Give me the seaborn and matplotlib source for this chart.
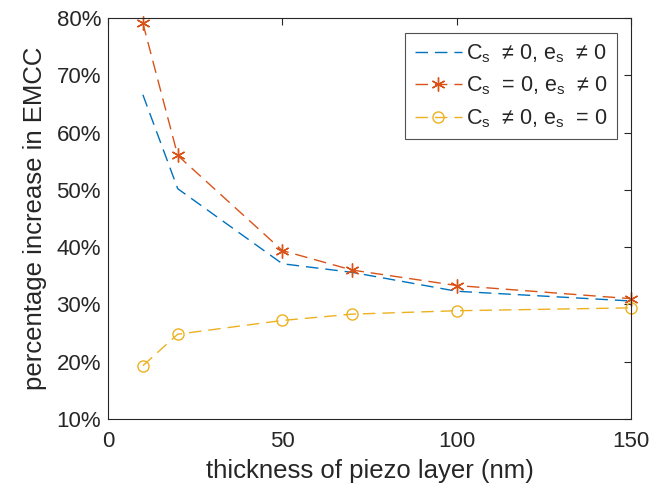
import pandas as pd
import seaborn as sns
import matplotlib.pyplot as plt
from matplotlib.ticker import PercentFormatter

# thickness of piezo layer (nm)
thickness = [10, 20, 50, 70, 100, 150]

# percentage increase in EMCC for each case
cs_es_both = [66.6, 50.2, 37.1, 35.6, 32.3, 30.6]
cs_zero = [79.1, 56.0, 39.4, 36.0, 33.3, 31.0]
es_zero = [19.3, 24.8, 27.2, 28.3, 28.9, 29.4]

labels = [
    r'C$_\mathregular{s}$  ≠ 0, e$_\mathregular{s}$  ≠ 0',
    r'C$_\mathregular{s}$  = 0, e$_\mathregular{s}$  ≠ 0',
    r'C$_\mathregular{s}$  ≠ 0, e$_\mathregular{s}$  = 0',
]

sns.set_style('white')
plt.rcParams['font.family'] = ['Liberation Sans', 'DejaVu Sans']
plt.rcParams['mathtext.fontset'] = 'custom'
plt.rcParams['mathtext.rm'] = 'Liberation Sans'

ink = '#262626'
fig = plt.figure(figsize=(6.53, 4.92), dpi=100)
ax = fig.add_axes([0.1654, 0.1484, 0.8009, 0.815])

series = [
    (cs_es_both, '#0072BD', None, {}),
    (cs_zero, '#D95319', (6, 2, 0), {'markersize': 10, 'markeredgewidth': 1.0}),
    (es_zero, '#EDB120', 'o', {'markersize': 8, 'markerfacecolor': 'none',
                               'markeredgewidth': 1.0}),
]
for (vals, color, marker, kw), lab in zip(series, labels):
    df = pd.DataFrame({'x': thickness, 'y': vals})
    sns.lineplot(data=df, x='x', y='y', ax=ax, color=color, marker=marker,
                 linestyle=(0, (9, 5)), linewidth=1.0, label=lab,
                 markeredgecolor=color, clip_on=False, **kw)

ax.set_xlim(0, 150)
ax.set_ylim(10, 80)
ax.set_xticks([0, 50, 100, 150])
ax.set_yticks(range(10, 81, 10))
ax.yaxis.set_major_formatter(PercentFormatter(decimals=0))

ax.set_xlabel('thickness of piezo layer (nm)', fontsize=18.5, color=ink,
              labelpad=5)
ax.set_ylabel('percentage increase in EMCC', fontsize=18.5, color=ink,
              labelpad=7)
ax.tick_params(axis='both', which='both', direction='in', length=5, width=0.8,
               top=True, right=True, labelsize=16, colors=ink)
ax.tick_params(axis='x', pad=9)
ax.tick_params(axis='y', pad=5)
for s in ax.spines.values():
    s.set_color(ink)
    s.set_linewidth(0.8)
    s.set_visible(True)

leg = ax.legend(loc='upper right', bbox_to_anchor=(0.974, 0.963), fontsize=15.5,
                frameon=True, fancybox=False, handlelength=2.2,
                handletextpad=0.2, labelspacing=0.45, borderpad=0.45,
                borderaxespad=0.0)
leg.get_frame().set_edgecolor(ink)
leg.get_frame().set_linewidth(0.8)
for t in leg.get_texts():
    t.set_color(ink)

fig.savefig('out.png', dpi=100)
